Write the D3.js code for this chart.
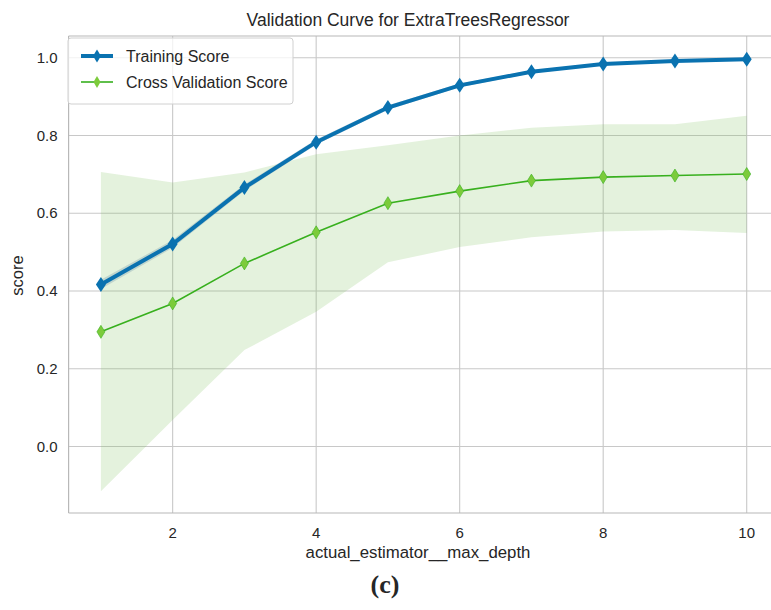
<!DOCTYPE html>
<html>
<head>
<meta charset="utf-8">
<script src="https://cdn.jsdelivr.net/npm/d3@7"></script>
<style>
  body { margin: 0; background: #fff; overflow: hidden; }
  text { font-family: "Liberation Sans", Arial, sans-serif; fill: #262626; }
</style>
</head>
<body>
<svg id="chart"></svg>
<script>
// values
const depths = [1, 2, 3, 4, 5, 6, 7, 8, 9, 10];
const trainScore = [0.417, 0.521, 0.666, 0.783, 0.872, 0.929, 0.964, 0.984, 0.992, 0.996];
const trainStd = [0.012, 0.01, 0.008, 0.007, 0.006, 0.005, 0.004, 0.003, 0.002, 0.002];
const cvScore = [0.295, 0.368, 0.471, 0.551, 0.626, 0.657, 0.684, 0.693, 0.697, 0.701];
const cvUpper = [0.706, 0.679, 0.705, 0.752, 0.775, 0.8, 0.82, 0.829, 0.829, 0.851];
const cvLower = [-0.115, 0.068, 0.248, 0.347, 0.474, 0.513, 0.538, 0.553, 0.557, 0.549];
const xTicks = [2, 4, 6, 8, 10];
const yTicks = [0.0, 0.2, 0.4, 0.6, 0.8, 1.0];

const dimensions = {
  width: 771,
  height: 610,
  margin: { top: 36, bottom: 97, left: 68.6, right: -8 }
};

const trainColor = "#0a72b0";
const cvLine = "#38b01e";
const cvMarker = "#7ccb3b";

const svg = d3.select("#chart")
  .attr("width", dimensions.width)
  .attr("height", dimensions.height);

const x = d3.scaleLinear()
  .domain([0.55, 10.45])
  .range([dimensions.margin.left, dimensions.width - dimensions.margin.right]);

const y = d3.scaleLinear()
  .domain([-0.171, 1.056])
  .range([dimensions.height - dimensions.margin.bottom, dimensions.margin.top]);

const plotTop = dimensions.margin.top;
const plotBottom = dimensions.height - dimensions.margin.bottom;
const plotLeft = dimensions.margin.left;
const plotRight = dimensions.width - dimensions.margin.right;

svg.append("defs").append("clipPath").attr("id", "clip")
  .append("rect")
  .attr("x", plotLeft).attr("y", plotTop)
  .attr("width", plotRight - plotLeft).attr("height", plotBottom - plotTop);

// grid
const grid = svg.append("g").attr("stroke", "#c8c8c8").attr("stroke-width", 1.1);
grid.selectAll(".gx").data(xTicks).enter().append("line")
  .attr("x1", d => x(d)).attr("x2", d => x(d))
  .attr("y1", plotTop).attr("y2", plotBottom);
grid.selectAll(".gy").data(yTicks).enter().append("line")
  .attr("x1", plotLeft).attr("x2", plotRight)
  .attr("y1", d => y(d)).attr("y2", d => y(d));

// frame (right side falls outside the picture)
const frame = svg.append("g").attr("stroke", "#b8b8b8").attr("stroke-width", 1.2);
frame.append("line").attr("x1", plotLeft).attr("x2", plotLeft).attr("y1", plotTop).attr("y2", plotBottom);
frame.append("line").attr("x1", plotLeft).attr("x2", plotRight).attr("y1", plotTop).attr("y2", plotTop);
frame.append("line").attr("x1", plotLeft).attr("x2", plotRight).attr("y1", plotBottom).attr("y2", plotBottom);

const plot = svg.append("g").attr("clip-path", "url(#clip)");

// bands
const cvArea = d3.area()
  .x((d, i) => x(depths[i]))
  .y0((d, i) => y(cvLower[i]))
  .y1((d, i) => y(cvUpper[i]));
plot.append("path").datum(depths)
  .attr("d", cvArea)
  .attr("fill", "#78bd55").attr("fill-opacity", 0.2);

const trainArea = d3.area()
  .x((d, i) => x(depths[i]))
  .y0((d, i) => y(trainScore[i] - trainStd[i]))
  .y1((d, i) => y(trainScore[i] + trainStd[i]));
plot.append("path").datum(depths)
  .attr("d", trainArea)
  .attr("fill", "#7fa0b0").attr("fill-opacity", 0.35);

// lines
const lineOf = vals => d3.line().x((d, i) => x(depths[i])).y((d, i) => y(vals[i]));

plot.append("path").datum(depths)
  .attr("d", lineOf(trainScore))
  .attr("fill", "none").attr("stroke", trainColor).attr("stroke-width", 4);

plot.append("path").datum(depths)
  .attr("d", lineOf(cvScore))
  .attr("fill", "none").attr("stroke", cvLine).attr("stroke-width", 1.6);

function diamond(w, h) {
  return `M0,${-h / 2}L${w / 2},0L0,${h / 2}L${-w / 2},0Z`;
}

plot.selectAll(".tm").data(depths).enter().append("path")
  .attr("d", diamond(10, 15))
  .attr("transform", (d, i) => `translate(${x(d)},${y(trainScore[i])})`)
  .attr("fill", trainColor);

plot.selectAll(".cm").data(depths).enter().append("path")
  .attr("d", diamond(8, 13))
  .attr("transform", (d, i) => `translate(${x(d)},${y(cvScore[i])})`)
  .attr("fill", cvMarker).attr("stroke", cvLine).attr("stroke-width", 0.6);

// tick labels
svg.append("g").selectAll("text").data(xTicks).enter().append("text")
  .attr("x", d => x(d)).attr("y", plotBottom + 25)
  .attr("text-anchor", "middle").attr("font-size", 15)
  .text(d => d);

svg.append("g").selectAll("text").data(yTicks).enter().append("text")
  .attr("x", plotLeft - 11).attr("y", d => y(d) + 5)
  .attr("text-anchor", "end").attr("font-size", 15)
  .text(d => d.toFixed(1));

// axis labels + title
svg.append("text")
  .attr("x", 418).attr("y", 558)
  .attr("text-anchor", "middle").attr("font-size", 16.8)
  .text("actual_estimator__max_depth");

svg.append("text")
  .attr("text-anchor", "middle").attr("font-size", 16.5)
  .attr("transform", `translate(23,${y(0.44)})rotate(-90)`)
  .text("score");

svg.append("text")
  .attr("x", 408).attr("y", 26)
  .attr("text-anchor", "middle").attr("font-size", 17.5)
  .text("Validation Curve for ExtraTreesRegressor");

// legend
const legend = svg.append("g");
legend.append("rect")
  .attr("x", 68).attr("y", 38).attr("width", 225).attr("height", 66).attr("rx", 3)
  .attr("fill", "#fff").attr("fill-opacity", 0.75)
  .attr("stroke", "#d0d0d0").attr("stroke-width", 1);

const legendItems = [
  { label: "Training Score", color: trainColor, marker: trainColor, w: 4, dw: 8, dh: 13 },
  { label: "Cross Validation Score", color: cvLine, marker: cvMarker, w: 1.6, dw: 7, dh: 12 }
];
legendItems.forEach((item, i) => {
  const ly = 56 + i * 26;
  legend.append("line")
    .attr("x1", 81).attr("x2", 113).attr("y1", ly).attr("y2", ly)
    .attr("stroke", item.color).attr("stroke-width", item.w);
  legend.append("path")
    .attr("d", diamond(item.dw, item.dh))
    .attr("transform", `translate(97,${ly})`)
    .attr("fill", item.marker);
  legend.append("text")
    .attr("x", 126).attr("y", ly + 5.5).attr("font-size", 16)
    .text(item.label);
});

// subfigure caption
svg.append("text")
  .attr("x", 385).attr("y", 593)
  .attr("text-anchor", "middle").attr("font-size", 26)
  .attr("font-weight", "bold")
  .style("font-family", "'Liberation Serif', 'DejaVu Serif', serif")
  .text("(c)");
</script>
</body>
</html>
